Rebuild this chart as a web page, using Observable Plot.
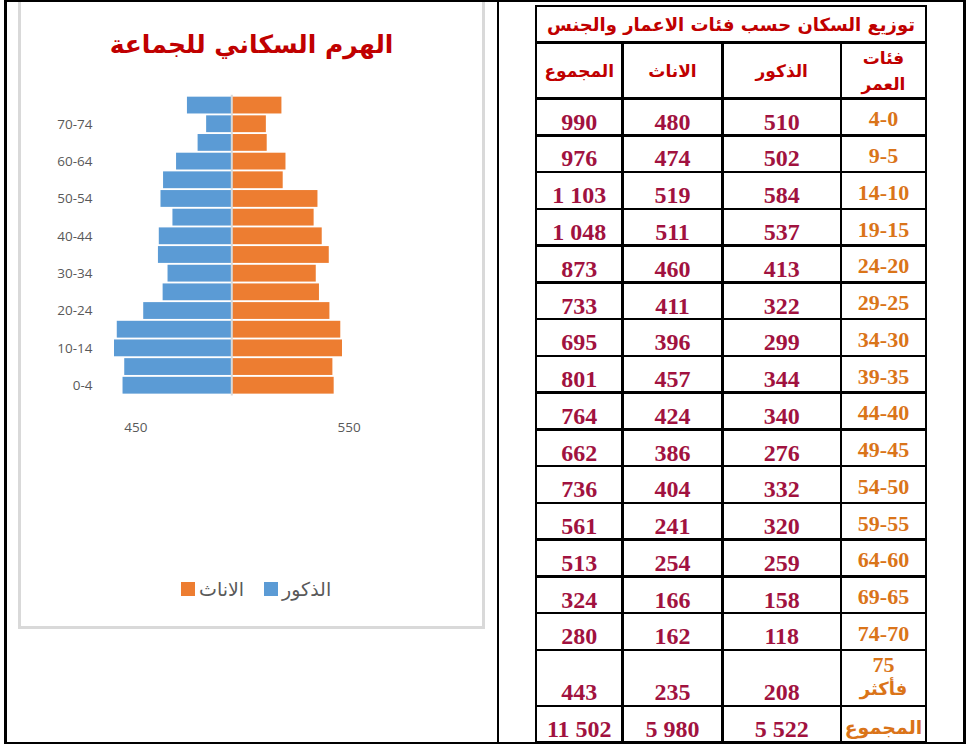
<!DOCTYPE html>
<html><head><meta charset="utf-8">
<script src="https://cdn.jsdelivr.net/npm/d3@7"></script>
<script src="https://cdn.jsdelivr.net/npm/@observablehq/plot@0.6"></script>
<style>
body{margin:0;background:#fff}
#page{position:relative;width:970px;height:744px;overflow:hidden;background:#fff}
.ln{position:absolute;background:#000}
.cell{position:absolute;display:flex;justify-content:center;box-sizing:border-box;text-align:center}
.num{font-family:"Liberation Serif","Times New Roman",serif;font-weight:bold;font-size:24px;line-height:24px;color:#A1123F;align-items:flex-end;padding-bottom:1.6px}
.age{font-family:"Liberation Serif","Times New Roman",serif;font-weight:bold;font-size:22px;line-height:22px;color:#DA7419;align-items:flex-end;padding-bottom:5px}
.ar{font-family:"DejaVu Sans",sans-serif;font-weight:bold}
</style></head><body><div id="page"></div>
<script>
// ---- chart data (population pyramid) ----
const ages = ["0-4","5-9","10-14","15-19","20-24","25-29","30-34","35-39","40-44","45-49","50-54","55-59","60-64","65-69","70-74","75+"];
const labeledAges = ["0-4","10-14","20-24","30-34","40-44","50-54","60-64","70-74"];
const males = [510,502,584,537,413,322,299,344,340,276,332,320,259,158,118,208];
const females = [480,474,519,511,460,411,396,457,424,386,404,241,254,166,162,235];
const xTicks = [-450, 550];
// ---- table data ----
const tableAges = ["4-0","9-5","14-10","19-15","24-20","29-25","34-30","39-35","44-40","49-45","54-50","59-55","64-60","69-65","74-70","75\nفأكثر"];
const tableTotals = [990,976,1103,1048,873,733,695,801,764,662,736,561,513,324,280,443];
const grandTotals = {all: 11502, females: 5980, males: 5522};
const headers = ["المجموع","الاناث","الذكور","فئات\nالعمر"];
const tableTitle = "توزيع السكان حسب فئات الاعمار والجنس";
const chartTitle = "الهرم السكاني للجماعة";
const legendLabels = {m: "الذكور", f: "الاناث"};

const page = document.getElementById("page");
function el(tag, style, text, cls) {
  const e = document.createElement(tag);
  if (cls) e.className = cls;
  Object.assign(e.style, style);
  if (text != null) e.textContent = text;
  page.appendChild(e);
  return e;
}

// ---- pyramid chart ----
const rows = [];
ages.forEach((a, i) => {
  rows.push({age: a, sex: "m", value: -males[i]});
  rows.push({age: a, sex: "f", value: females[i]});
});
const W = 480, H = 460;
const chart = Plot.plot({
  width: W, height: H,
  marginLeft: 114, marginRight: W - 348.6, marginTop: 94.8, marginBottom: H - 395.5,
  style: {background: "transparent", fontFamily: "'Open Sans', sans-serif", fontSize: "13.5px", color: "#595959", overflow: "visible"},
  x: {domain: [-550, 550], clamp: true, ticks: xTicks, tickFormat: d => Math.abs(d), tickSize: 0, tickPadding: 26, label: null},
  y: {domain: ages.slice().reverse(), padding: 0.1, round: false, tickSize: 0, tickPadding: 22, label: null,
      tickFormat: d => labeledAges.includes(d) ? d : ""},
  color: {domain: ["m", "f"], range: ["#5B9BD5", "#ED7D31"]},
  marks: [
    Plot.barX(rows, {x: "value", y: "age", fill: "sex"}),
    Plot.ruleX([0], {stroke: "#D9D9D9", strokeWidth: 2})
  ]
});
const holder = el("div", {position: "absolute", left: "0px", top: "0px"});
holder.appendChild(chart);

// chart box border
el("div", {position: "absolute", left: "18px", top: "-1px", width: "467px", height: "630px", border: "3px solid #D9D9D9", boxSizing: "border-box"});
// chart title
el("div", {position: "absolute", left: "21px", top: "27px", width: "461px", textAlign: "center", fontSize: "25px", lineHeight: "36px", color: "#C00000", direction: "rtl", whiteSpace: "nowrap"}, chartTitle, "ar");
// legend
const leg = el("div", {position: "absolute", left: "181px", top: "575px", display: "flex", alignItems: "center", direction: "ltr", fontFamily: "'DejaVu Sans', sans-serif", fontSize: "19px", color: "#595959", lineHeight: "28px"});
function legItem(color, label, gap) {
  const s = document.createElement("span");
  Object.assign(s.style, {display: "inline-block", width: "14px", height: "14px", background: color, marginRight: "4px", marginLeft: gap + "px"});
  const t = document.createElement("span");
  t.textContent = label; t.style.direction = "rtl";
  leg.appendChild(s); leg.appendChild(t);
}
legItem("#ED7D31", legendLabels.f, 0);
legItem("#5B9BD5", legendLabels.m, 20);

// ---- page frame ----
el("div", {left: "4px", top: "0px", width: "962px", height: "1.5px"}, null, "ln");
el("div", {left: "4px", top: "0px", width: "2.5px", height: "744px"}, null, "ln");
el("div", {left: "496.5px", top: "0px", width: "2.5px", height: "744px"}, null, "ln");
el("div", {left: "963px", top: "0px", width: "2.5px", height: "744px"}, null, "ln");
el("div", {left: "4px", top: "741.5px", width: "962px", height: "2px"}, null, "ln");

// ---- table ----
const colX = [536, 622.5, 722.5, 841, 926];
const rowY = [6, 42.5, 98.5];
for (let i = 1; i <= 15; i++) rowY.push(98.5 + i * (551.5 / 15));
rowY.push(706, 742.5);
const bw = 2.5;
rowY.forEach((y, r) => {
  const x0 = colX[0], x1 = colX[4];
  el("div", {left: (x0 - bw/2) + "px", top: (y - bw/2) + "px", width: (x1 - x0 + bw) + "px", height: bw + "px"}, null, "ln");
});
colX.forEach((x, c) => {
  const y0 = (c === 0 || c === 4) ? rowY[0] : rowY[1];
  el("div", {left: (x - bw/2) + "px", top: (y0 - bw/2) + "px", width: bw + "px", height: (rowY[rowY.length-1] - y0 + bw) + "px"}, null, "ln");
});
function cell(c0, c1, r, text, cls, extra) {
  const s = Object.assign({left: colX[c0] + "px", top: rowY[r] + "px", width: (colX[c1] - colX[c0]) + "px", height: (rowY[r+1] - rowY[r]) + "px"}, extra || {});
  return el("div", s, text, "cell " + cls);
}
cell(0, 4, 0, tableTitle, "ar", {alignItems: "center", fontSize: "18px", color: "#C00000", direction: "rtl", whiteSpace: "nowrap", paddingTop: "1px"});
headers.forEach((h, c) => cell(c, c+1, 1, h, "ar", {alignItems: "center", fontSize: "17px", lineHeight: "26px", color: "#C00000", whiteSpace: "pre-line", direction: "rtl"}));
const fmt = d3.formatLocale({decimal: ",", thousands: " ", grouping: [3], currency: ["", ""]}).format(",d");
tableAges.forEach((a, i) => {
  const r = i + 2;
  cell(0, 1, r, fmt(tableTotals[i]), "num");
  cell(1, 2, r, fmt(females[i]), "num");
  cell(2, 3, r, fmt(males[i]), "num");
  if (i === 15) {
    const c = cell(3, 4, r, null, "age", {alignItems: "center", paddingBottom: "3px", flexDirection: "column", justifyContent: "center"});
    const [n, w] = a.split("\n");
    const s1 = document.createElement("div"); s1.textContent = n; s1.style.lineHeight = "24px";
    const s2 = document.createElement("div"); s2.textContent = w; s2.className = "ar";
    Object.assign(s2.style, {fontSize: "18px", lineHeight: "24px", direction: "rtl"});
    c.appendChild(s1); c.appendChild(s2);
  } else {
    cell(3, 4, r, a, "age");
  }
});
const rt = rowY.length - 2;
cell(0, 1, rt, fmt(grandTotals.all), "num");
cell(1, 2, rt, fmt(grandTotals.females), "num");
cell(2, 3, rt, fmt(grandTotals.males), "num");
cell(3, 4, rt, headers[0], "ar", {alignItems: "center", fontSize: "19px", color: "#DA7419", direction: "rtl", paddingTop: "6px"});
</script></body></html>
